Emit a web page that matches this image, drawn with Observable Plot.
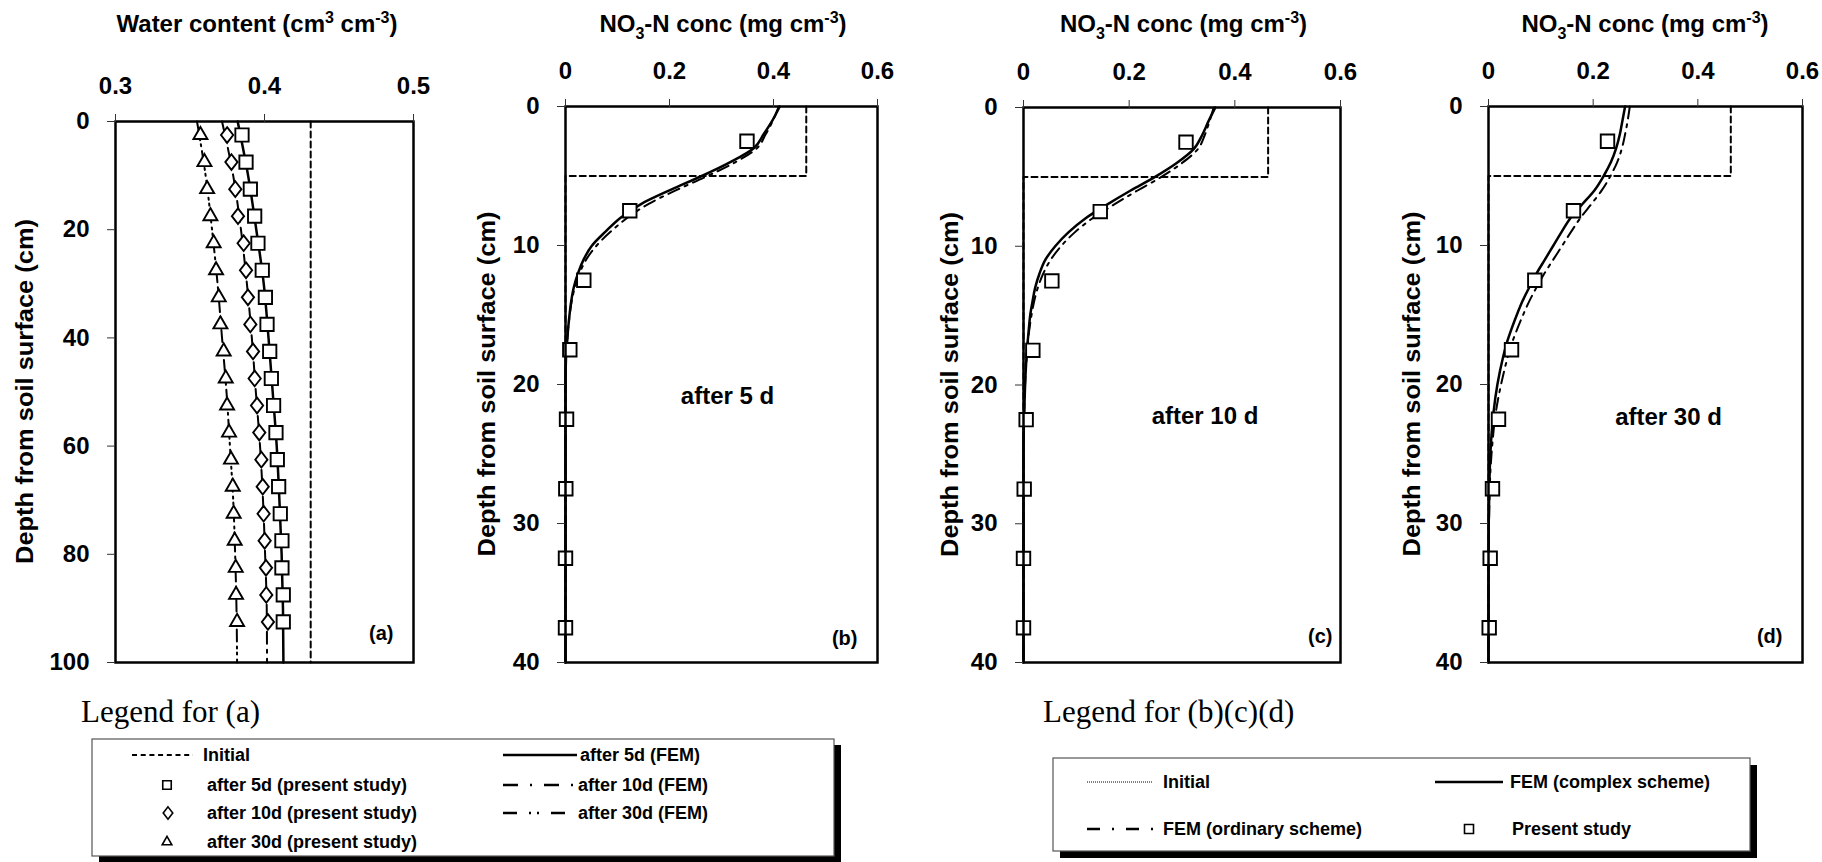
<!DOCTYPE html>
<html>
<head>
<meta charset="utf-8">
<script src="https://cdn.jsdelivr.net/npm/d3@7"></script>
<script src="https://cdn.jsdelivr.net/npm/@observablehq/plot@0.6"></script>
<style>
  html, body { margin: 0; padding: 0; background: #fff; }
  #root { position: relative; width: 1822px; height: 862px; overflow: hidden; background: #fff; }
</style>
</head>
<body>
<div id="root"></div>
<script>
// ---------------- DATA ----------------
// Panel (a): water content profiles
const depthObsA = [2.5, 7.5, 12.5, 17.5, 22.5, 27.5, 32.5, 37.5, 42.5, 47.5, 52.5, 57.5, 62.5, 67.5, 72.5, 77.5, 82.5, 87.5, 92.5];
const wc5Obs  = [0.3849, 0.3876, 0.3905, 0.3934, 0.3956, 0.3985, 0.4006, 0.4017, 0.4035, 0.4046, 0.4061, 0.4077, 0.4086, 0.4095, 0.4106, 0.4117, 0.4117, 0.4126, 0.4126];
const wc10Obs = [0.3749, 0.3778, 0.3804, 0.3822, 0.3860, 0.3876, 0.3889, 0.3905, 0.3923, 0.3934, 0.3950, 0.3965, 0.3979, 0.3988, 0.3994, 0.4001, 0.4010, 0.4012, 0.4023];
const wc30Obs = [0.3570, 0.3597, 0.3615, 0.3637, 0.3659, 0.3675, 0.3693, 0.3704, 0.3726, 0.3740, 0.3749, 0.3762, 0.3775, 0.3787, 0.3793, 0.3800, 0.3807, 0.3809, 0.3816];
const depthFemA = [0, 10, 20, 30, 40, 50, 60, 70, 80, 90, 100];
const wc5Fem  = [0.3820, 0.3890, 0.3945, 0.3995, 0.4027, 0.4055, 0.4082, 0.4100, 0.4115, 0.4124, 0.4127];
const wc10Fem = [0.3715, 0.3790, 0.3842, 0.3882, 0.3915, 0.3942, 0.3970, 0.3990, 0.4004, 0.4015, 0.4017];
const wc30Fem = [0.3547, 0.3605, 0.3648, 0.3685, 0.3715, 0.3745, 0.3768, 0.3790, 0.3803, 0.3812, 0.3816];
const wcInitialX = [0.431, 0.431];
const wcInitialDepth = [0, 100];
const wcTicks = [0.3, 0.4, 0.5];
const depthTicksA = [0, 20, 40, 60, 80, 100];

// Panels (b)(c)(d): NO3-N concentration profiles
const depthObsN = [2.5, 7.5, 12.5, 17.5, 22.5, 27.5, 32.5, 37.5];
const obs5  = [0.349, 0.1236, 0.0352, 0.0083, 0.002, 0.0006, 0, 0];
const obs10 = [0.3076, 0.1453, 0.0537, 0.0177, 0.005, 0.0013, 0, 0];
const obs30 = [0.2274, 0.1624, 0.0885, 0.044, 0.0191, 0.0076, 0.0032, 0.0013];
const depthFemN = [0, 1, 2, 3, 4, 5, 6, 7, 8, 9, 10, 11, 12, 13, 14, 15, 16, 17, 18, 20, 22, 24, 26, 28, 30, 35, 40];
const complex5  = [0.412, 0.398, 0.381, 0.362, 0.317, 0.262, 0.202, 0.146, 0.106, 0.077, 0.051, 0.035, 0.024, 0.016, 0.011, 0.0077, 0.005, 0.003, 0.001, 0, 0, 0, 0, 0, 0, 0, 0];
const ordinary5 = [0.410, 0.399, 0.385, 0.368, 0.327, 0.273, 0.214, 0.160, 0.119, 0.087, 0.060, 0.040, 0.027, 0.018, 0.012, 0.008, 0.005, 0.003, 0.001, 0, 0, 0, 0, 0, 0, 0, 0];
const complex10  = [0.363, 0.350, 0.338, 0.322, 0.290, 0.249, 0.202, 0.158, 0.117, 0.085, 0.060, 0.041, 0.030, 0.022, 0.017, 0.0126, 0.010, 0.0076, 0.0057, 0.003, 0.0013, 0, 0, 0, 0, 0, 0];
const ordinary10 = [0.360, 0.352, 0.343, 0.330, 0.300, 0.261, 0.215, 0.171, 0.130, 0.097, 0.071, 0.051, 0.037, 0.027, 0.020, 0.015, 0.011, 0.008, 0.006, 0.003, 0.0015, 0.0005, 0, 0, 0, 0, 0];
const complex30  = [0.261, 0.256, 0.251, 0.244, 0.234, 0.220, 0.203, 0.180, 0.157, 0.140, 0.124, 0.108, 0.092, 0.078, 0.065, 0.054, 0.044, 0.035, 0.028, 0.017, 0.0096, 0.0051, 0.0025, 0.0013, 0.0005, 0, 0];
const ordinary30 = [0.270, 0.266, 0.261, 0.255, 0.246, 0.233, 0.217, 0.197, 0.176, 0.158, 0.141, 0.124, 0.107, 0.092, 0.078, 0.066, 0.055, 0.045, 0.037, 0.024, 0.014, 0.008, 0.004, 0.002, 0.001, 0, 0];
const initConcX = [0.463, 0.463, 0, 0];
const initConcDepth = [0, 5, 5, 40];
const concTicks = [0, 0.2, 0.4, 0.6];
const depthTicksN = [0, 10, 20, 30, 40];

// Texts
const panelTags = ["(a)", "(b)", "(c)", "(d)"];
const panelNotes = ["after 5 d", "after 10 d", "after 30 d"];
const yLabel = "Depth from soil surface (cm)";
const legendATitle = "Legend for (a)";
const legendALeft = ["Initial", "after 5d (present study)", "after 10d (present study)", "after 30d (present study)"];
const legendARight = ["after 5d (FEM)", "after 10d (FEM)", "after 30d (FEM)"];
const legendBTitle = "Legend for (b)(c)(d)";
const legendBLabels = ["Initial", "FEM (complex scheme)", "FEM (ordinary scheme)", "Present study"];

// ---------------- DRAWING ----------------
const SANS = "'Liberation Sans', Arial, Helvetica, sans-serif";
const SERIF = "'Liberation Serif', 'Times New Roman', serif";
const DASH_INIT = "6,4";
const DASH_DOT = "12,6,3,6";
const DASH_DOT_DOT = "12,5,2,4,2,5";
const root = document.getElementById("root");

// slightly tall diamond marker (as in the figure)
const tallDiamond = {
  draw(ctx, size) {
    const h = Math.sqrt(size) * 0.79, w = h * 0.78;
    ctx.moveTo(0, -h); ctx.lineTo(w, 0); ctx.lineTo(0, h); ctx.lineTo(-w, 0); ctx.closePath();
  }
};

function makePanel(cfg) {
  const chart = Plot.plot({
    width: cfg.width,
    height: 700,
    marginTop: cfg.mTop,
    marginLeft: cfg.mLeft,
    marginRight: cfg.mRight,
    marginBottom: 38,
    x: {domain: cfg.xDomain},
    y: {domain: cfg.yDomain, reverse: true},
    style: {fontFamily: SANS, fontSize: "24px", fontWeight: "bold", color: "#000", background: "transparent", overflow: "visible"},
    marks: [
      ...cfg.marks,
      Plot.frame({stroke: "#000", strokeWidth: 2.5}),
      Plot.axisX({anchor: "top", ticks: cfg.xTicks, tickFormat: cfg.xFmt, tickSize: 8, tickPadding: 20, label: null, stroke: "#333"}),
      Plot.axisY({anchor: "left", ticks: cfg.yTicks, tickSize: 8, tickPadding: 18, label: null, stroke: "#333"}),
      Plot.text([cfg.tag], {text: d => d, frameAnchor: "bottom-right", textAnchor: "end", lineAnchor: "middle", dx: cfg.tagDx, dy: cfg.tagDy, fontSize: 20}),
      cfg.note ? Plot.text([cfg.note], {text: d => d, frameAnchor: "middle", dx: cfg.noteDx, dy: cfg.noteDy, fontSize: 24}) : null
    ]
  });
  chart.style.position = "absolute";
  chart.style.left = cfg.left + "px";
  chart.style.top = "0px";
  const svg = d3.select(chart);
  const frameCx = cfg.mLeft + (cfg.width - cfg.mLeft - cfg.mRight) / 2;
  const frameCy = cfg.mTop + (700 - cfg.mTop - 38) / 2;
  const t = svg.append("text")
    .attr("x", frameCx + cfg.titleDx).attr("y", 32)
    .attr("text-anchor", "middle")
    .attr("font-family", SANS).attr("font-weight", "bold").attr("font-size", 24).attr("fill", "#000");
  cfg.title(t);
  svg.append("text")
    .attr("transform", `translate(${cfg.ylabX},${frameCy}) rotate(-90)`)
    .attr("text-anchor", "middle").attr("dominant-baseline", "central")
    .attr("font-family", SANS).attr("font-weight", "bold").attr("font-size", 23).attr("fill", "#000")
    .attr("textLength", 345).attr("lengthAdjust", "spacingAndGlyphs")
    .text(yLabel);
  root.appendChild(chart);
}

function waterTitle(t) {
  t.append("tspan").text("Water content (cm");
  t.append("tspan").attr("font-size", 16).attr("dy", -9).text("3");
  t.append("tspan").attr("dy", 9).text(" cm");
  t.append("tspan").attr("font-size", 16).attr("dy", -9).text("-3");
  t.append("tspan").attr("dy", 9).text(")");
}
function concTitle(t) {
  t.append("tspan").text("NO");
  t.append("tspan").attr("font-size", 16).attr("dy", 7).text("3");
  t.append("tspan").attr("dy", -7).text("-N conc (mg cm");
  t.append("tspan").attr("font-size", 16).attr("dy", -9).text("-3");
  t.append("tspan").attr("dy", 9).text(")");
}

const fmtWC = d => d3.format(".1f")(d);
const fmtC = d => String(d);

// Panel (a)
makePanel({
  left: 0, width: 440, mTop: 121, mLeft: 115, mRight: 27,
  xDomain: [0.3, 0.5], yDomain: [0, 100], xTicks: wcTicks, xFmt: fmtWC, yTicks: depthTicksA,
  title: waterTitle, titleDx: -7, ylabX: 25,
  tag: panelTags[0], tagDx: -20, tagDy: -29,
  marks: [
    Plot.line(wcInitialDepth, {x: wcInitialX, y: wcInitialDepth, stroke: "#000", strokeWidth: 2, strokeDasharray: DASH_INIT}),
    Plot.line(depthFemA, {x: wc30Fem, y: depthFemA, stroke: "#000", strokeWidth: 2, strokeDasharray: DASH_DOT_DOT, curve: "monotone-y"}),
    Plot.line(depthFemA, {x: wc10Fem, y: depthFemA, stroke: "#000", strokeWidth: 2, strokeDasharray: DASH_DOT, curve: "monotone-y"}),
    Plot.line(depthFemA, {x: wc5Fem, y: depthFemA, stroke: "#000", strokeWidth: 2.5, curve: "monotone-y"}),
    Plot.dot(depthObsA, {x: wc30Obs, y: depthObsA, symbol: "triangle", r: 5.2, stroke: "#000", fill: "#fff", strokeWidth: 1.9}),
    Plot.dot(depthObsA, {x: wc10Obs, y: depthObsA, symbol: tallDiamond, r: 5.6, stroke: "#000", fill: "#fff", strokeWidth: 1.9}),
    Plot.dot(depthObsA, {x: wc5Obs, y: depthObsA, symbol: "square", r: 7.5, stroke: "#000", fill: "#fff", strokeWidth: 1.9})
  ]
});

function concMarks(obs, complex, ordinary) {
  return [
    Plot.line(initConcDepth, {x: initConcX, y: initConcDepth, stroke: "#000", strokeWidth: 2, strokeDasharray: DASH_INIT}),
    Plot.line(depthFemN, {x: ordinary, y: depthFemN, stroke: "#000", strokeWidth: 2, strokeDasharray: DASH_DOT, curve: "monotone-y"}),
    Plot.line(depthFemN, {x: complex, y: depthFemN, stroke: "#000", strokeWidth: 2.5, curve: "monotone-y"}),
    Plot.dot(depthObsN, {x: obs, y: depthObsN, symbol: "square", r: 7.6, stroke: "#000", fill: "#fff", strokeWidth: 1.9})
  ];
}

// Panel (b)
makePanel({
  left: 440, width: 460, mTop: 106, mLeft: 125, mRight: 23,
  xDomain: [0, 0.6], yDomain: [0, 40], xTicks: concTicks, xFmt: fmtC, yTicks: depthTicksN,
  title: concTitle, titleDx: 2, ylabX: 47,
  tag: panelTags[1], tagDx: -20, tagDy: -24,
  note: panelNotes[0], noteDx: 6, noteDy: 12,
  marks: concMarks(obs5, complex5, ordinary5)
});
// Panel (c)
makePanel({
  left: 900, width: 460, mTop: 107, mLeft: 123, mRight: 20,
  xDomain: [0, 0.6], yDomain: [0, 40], xTicks: concTicks, xFmt: fmtC, yTicks: depthTicksN,
  title: concTitle, titleDx: 2, ylabX: 50,
  tag: panelTags[2], tagDx: -8, tagDy: -26,
  note: panelNotes[1], noteDx: 23, noteDy: 31,
  marks: concMarks(obs10, complex10, ordinary10)
});
// Panel (d)
makePanel({
  left: 1362, width: 460, mTop: 106, mLeft: 126, mRight: 20,
  xDomain: [0, 0.6], yDomain: [0, 40], xTicks: concTicks, xFmt: fmtC, yTicks: depthTicksN,
  title: concTitle, titleDx: 0, ylabX: 50,
  tag: panelTags[3], tagDx: -20, tagDy: -26,
  note: panelNotes[2], noteDx: 23, noteDy: 33,
  marks: concMarks(obs30, complex30, ordinary30)
});

// ---------------- LEGENDS ----------------
const lg = d3.select(root).append("svg")
  .attr("width", 1822).attr("height", 862)
  .style("position", "absolute").style("left", "0px").style("top", "0px")
  .style("pointer-events", "none");

function box(x, y, w, h, ox, oy) {
  lg.append("rect").attr("x", x + ox).attr("y", y + oy).attr("width", w).attr("height", h).attr("fill", "#000");
  lg.append("rect").attr("x", x).attr("y", y).attr("width", w).attr("height", h).attr("fill", "#fff").attr("stroke", "#555").attr("stroke-width", 1.2);
}
function label(x, y, s) {
  lg.append("text").attr("x", x).attr("y", y).attr("dominant-baseline", "central")
    .attr("font-family", SANS).attr("font-weight", "bold").attr("font-size", 18).attr("fill", "#000").text(s);
}
function seg(x1, x2, y, dash, w) {
  lg.append("line").attr("x1", x1).attr("x2", x2).attr("y1", y).attr("y2", y)
    .attr("stroke", "#000").attr("stroke-width", w).attr("stroke-dasharray", dash || null);
}
function sym(type, size, x, y) {
  lg.append("path").attr("d", d3.symbol(type, size)()).attr("transform", `translate(${x},${y})`)
    .attr("fill", "#fff").attr("stroke", "#000").attr("stroke-width", 1.6);
}
function title(x, y, s) {
  lg.append("text").attr("x", x).attr("y", y).attr("font-family", SERIF).attr("font-size", 31).attr("fill", "#000").text(s);
}

// Legend (a)
const rowA = [755, 785, 813, 842];
title(81, 722, legendATitle);
box(92, 739, 742, 117, 7, 6);
seg(132, 193, rowA[0], "5,3.7", 2); label(203, rowA[0], legendALeft[0]);
sym(d3.symbolSquare, 72, 167, rowA[1]); label(207, rowA[1], legendALeft[1]);
sym(tallDiamond, 60, 168, rowA[2]); label(207, rowA[2], legendALeft[2]);
sym(d3.symbolTriangle, 40, 167, rowA[3]); label(207, rowA[3], legendALeft[3]);
seg(503, 577, rowA[0], null, 2.5); label(580, rowA[0], legendARight[0]);
seg(503, 576, rowA[1], "15,12,2,12", 2.5); label(578, rowA[1], legendARight[1]);
seg(503, 568, rowA[2], "14,12,2,6,2,12", 2.5); label(578, rowA[2], legendARight[2]);

// Legend (b)(c)(d)
const rowB = [782, 829];
title(1043, 722, legendBTitle);
box(1053, 758, 697, 93, 7, 7);
seg(1087, 1153, rowB[0], "1,1", 1); label(1163, rowB[0], legendBLabels[0]);
seg(1435, 1503, rowB[0], null, 2.5); label(1510, rowB[0], legendBLabels[1]);
seg(1087, 1154, rowB[1], "13,12,2,12", 2.5); label(1163, rowB[1], legendBLabels[2]);
sym(d3.symbolSquare, 81, 1469, rowB[1]); label(1512, rowB[1], legendBLabels[3]);
</script>
</body>
</html>
